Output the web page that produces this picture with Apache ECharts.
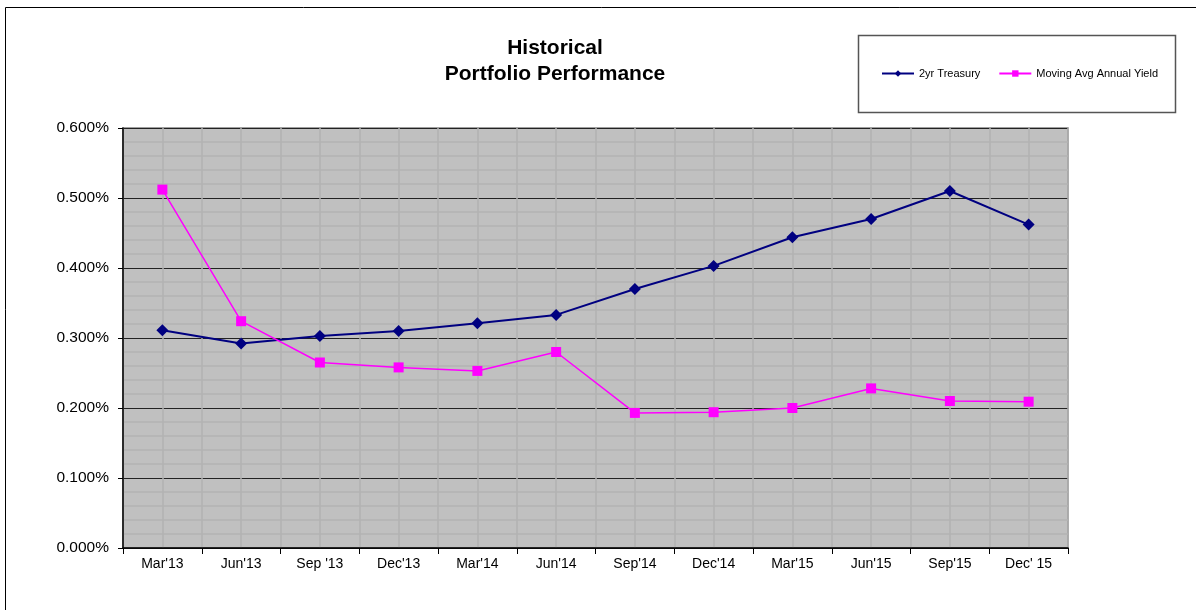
<!DOCTYPE html>
<html>
<head>
<meta charset="utf-8">
<script src="https://cdn.jsdelivr.net/npm/echarts@6/dist/echarts.min.js"></script>
<style>
  html, body { margin: 0; padding: 0; background: #fff; }
  #chart { width: 1196px; height: 610px; }
</style>
</head>
<body>
<div id="chart"></div>
<script>
var quarters = ["Mar'13", "Jun'13", "Sep '13", "Dec'13", "Mar'14", "Jun'14", "Sep'14", "Dec'14", "Mar'15", "Jun'15", "Sep'15", "Dec' 15"]
// values in percent
var treasury2yr = [0.311, 0.292, 0.303, 0.310, 0.321, 0.333, 0.370, 0.403, 0.444, 0.470, 0.510, 0.462]
var movingAvgYield = [0.512, 0.324, 0.265, 0.258, 0.253, 0.280, 0.193, 0.194, 0.200, 0.228, 0.210, 0.209]

var chart = echarts.init(document.getElementById('chart'))
var font = 'Liberation Sans, Arial, sans-serif'

chart.setOption({
  animation: false,
  textStyle: { fontFamily: font },
  title: {
    text: 'Historical\nPortfolio Performance',
    left: 550,
    textAlign: 'center',
    top: 30,
    textStyle: { fontSize: 21, fontWeight: 'bold', color: '#000', lineHeight: 26, fontFamily: font }
  },
  graphic: [
    {
      type: 'rect',
      shape: { x: 5.5, y: 7.5, width: 1300, height: 700 },
      style: { fill: 'none', stroke: '#000', lineWidth: 1 },
      silent: true
    },
    {
      type: 'rect',
      shape: { x: 858.5, y: 35.5, width: 317, height: 77 },
      style: { fill: '#fff', stroke: '#555', lineWidth: 1.5 },
      silent: true,
      z: -1
    }
  ],
  legend: {
    left: 876,
    top: 63,
    itemWidth: 32,
    itemHeight: 8,
    itemGap: 18,
    textStyle: { fontSize: 11, color: '#000', fontFamily: font },
    data: ['2yr Treasury', 'Moving Avg Annual Yield']
  },
  grid: {
    left: 123,
    right: 128,
    top: 128,
    bottom: 62,
    show: true,
    backgroundColor: '#c0c0c0',
    borderColor: '#808080',
    borderWidth: 1.5
  },
  xAxis: [
    {
      type: 'category',
      data: quarters,
      boundaryGap: true,
      axisLine: { lineStyle: { color: '#000', width: 1.5 } },
      axisTick: { show: true, length: 6, lineStyle: { color: '#000' } },
      axisLabel: { fontSize: 14, color: '#000', margin: 9, fontFamily: font },
      splitLine: { show: false }
    },
    {
      type: 'value',
      min: 0,
      max: 24,
      interval: 1,
      position: 'top',
      axisLine: { show: false },
      axisTick: { show: false },
      axisLabel: { show: false },
      splitLine: { show: true, lineStyle: { color: '#b2b2b2', width: 1.5 } }
    }
  ],
  yAxis: {
    type: 'value',
    min: 0,
    max: 0.6,
    interval: 0.1,
    axisLine: { show: true, lineStyle: { color: '#000', width: 1.5 } },
    axisTick: { show: true, length: 5, lineStyle: { color: '#000' } },
    axisLabel: {
      fontSize: 15.5,
      color: '#000',
      margin: 14,
      fontFamily: font,
      formatter: function (v) { return v.toFixed(3) + '%' }
    },
    splitLine: { show: true, lineStyle: { color: '#222', width: 1.2 } },
    minorTick: { show: false, splitNumber: 5 },
    minorSplitLine: { show: true, lineStyle: { color: '#b2b2b2', width: 1.5 } }
  },
  series: [
    {
      name: '2yr Treasury',
      type: 'line',
      xAxisIndex: 0,
      data: treasury2yr,
      symbol: 'diamond',
      symbolSize: 12,
      itemStyle: { color: '#000080' },
      lineStyle: { color: '#000080', width: 2 }
    },
    {
      name: 'Moving Avg Annual Yield',
      type: 'line',
      xAxisIndex: 0,
      data: movingAvgYield,
      symbol: 'rect',
      symbolSize: 10,
      itemStyle: { color: '#ff00ff' },
      lineStyle: { color: '#ff00ff', width: 1.5 }
    }
  ]
})
</script>
</body>
</html>
